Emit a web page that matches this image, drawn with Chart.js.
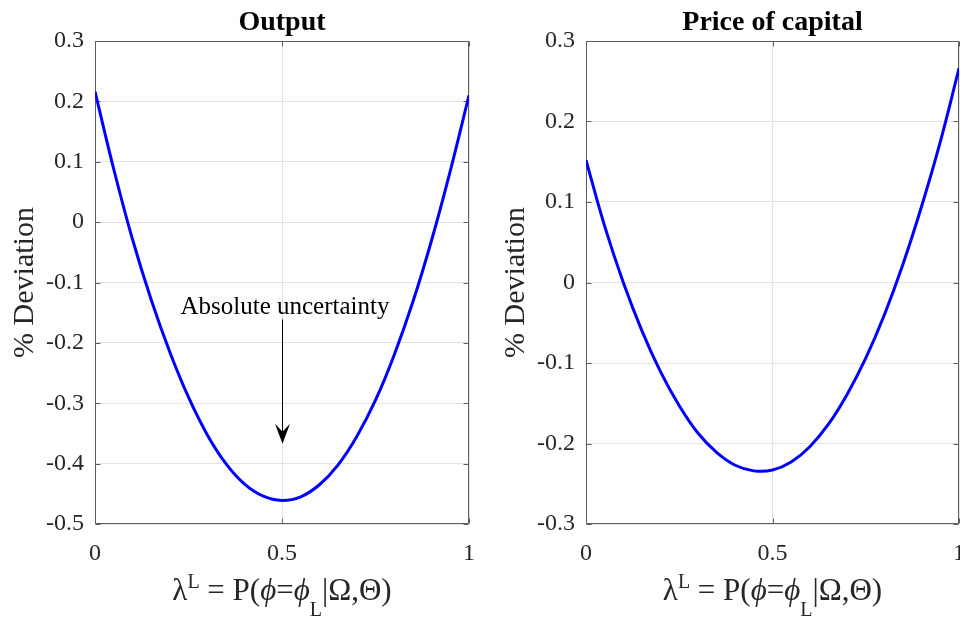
<!DOCTYPE html>
<html>
<head>
<meta charset="utf-8">
<script src="https://cdn.jsdelivr.net/npm/chart.js@4.4.1/dist/chart.umd.min.js"></script>
<style>
  html, body { margin: 0; padding: 0; background: #fff; }
  body { width: 960px; height: 617px; position: relative; overflow: hidden; }
  .panel { position: absolute; top: 0; width: 480px; height: 617px; }
</style>
</head>
<body>
<div class="panel" style="left:0"><canvas id="outputChart"></canvas></div>
<div class="panel" style="left:480px"><canvas id="priceChart"></canvas></div>
<script>
// values
const lambdaGrid = [0, 0.05, 0.1, 0.15, 0.2, 0.25, 0.3, 0.35, 0.4, 0.45, 0.5, 0.55, 0.6, 0.65, 0.7, 0.75, 0.8, 0.85, 0.9, 0.95, 1.0];
const outputDeviation = [0.216, 0.088, -0.028, -0.128, -0.215, -0.29, -0.352, -0.4, -0.434, -0.454, -0.461, -0.455, -0.435, -0.402, -0.355, -0.295, -0.22, -0.132, -0.03, 0.085, 0.21];
const priceDeviation = [0.152, 0.07, 0.0, -0.06, -0.111, -0.153, -0.187, -0.211, -0.227, -0.234, -0.233, -0.223, -0.204, -0.176, -0.139, -0.094, -0.04, 0.023, 0.095, 0.175, 0.266];

const xTicks = [0, 0.5, 1];
const yTicksOutput = [0.3, 0.2, 0.1, 0, -0.1, -0.2, -0.3, -0.4, -0.5];
const yTicksPrice = [0.3, 0.2, 0.1, 0, -0.1, -0.2, -0.3];

const annotationText = "Absolute uncertainty";
const annotationAt = { x: 0.508, y: -0.152 };
const arrowFrom = { x: 0.5, y: -0.161 };
const arrowTo = { x: 0.5, y: -0.367 };

const SERIF = '"Liberation Serif", "Times New Roman", "DejaVu Serif", serif';
const TEXT = "#262626";
const GRID = "#e3e3e3";
const BOX = "#5e5e5e";
const LINE = "#0000ff";

// x label pieces: text, size, baseline shift, italic
const xLabelParts = [
  ["λ", 31, 0, false],
  ["L", 20, -12, false],
  [" = P(", 31, 0, false],
  ["ϕ", 31, 0, true],
  ["=", 31, 0, false],
  ["ϕ", 31, 0, true],
  ["L", 20, 16, false],
  ["|Ω,Θ)", 31, 0, false],
];

const fmt = (v) => String(Math.round(v * 10) / 10);

function drawXLabel(ctx, cx, baseline) {
  const fontOf = (p) => `${p[3] ? "italic " : ""}${p[1]}px ${SERIF}`;
  let total = 0;
  const widths = xLabelParts.map((p) => {
    ctx.font = fontOf(p);
    const w = ctx.measureText(p[0]).width;
    total += w;
    return w;
  });
  let x = cx - total / 2;
  ctx.textAlign = "left";
  ctx.textBaseline = "alphabetic";
  xLabelParts.forEach((p, i) => {
    ctx.font = fontOf(p);
    ctx.fillText(p[0], x, baseline + p[2]);
    x += widths[i];
  });
}

const matlabAxes = {
  id: "matlabAxes",
  beforeDatasetsDraw(chart) {
    const { ctx, chartArea: a, scales: { x, y } } = chart;
    const L = Math.round(a.left) + 0.5, R = Math.round(a.right) - 0.5;
    const T = Math.round(a.top) + 0.5, B = Math.round(a.bottom) - 0.5;
    ctx.save();
    ctx.strokeStyle = BOX;
    ctx.lineWidth = 1;
    ctx.beginPath();
    y.ticks.forEach((t) => {
      const py = Math.round(y.getPixelForValue(t.value)) + 0.5;
      ctx.moveTo(L, py); ctx.lineTo(L + 5, py);
      ctx.moveTo(R - 5, py); ctx.lineTo(R, py);
    });
    x.ticks.forEach((t) => {
      const px = Math.round(x.getPixelForValue(t.value)) + 0.5;
      ctx.moveTo(px, B); ctx.lineTo(px, B - 5);
      ctx.moveTo(px, T); ctx.lineTo(px, T + 5);
    });
    ctx.rect(L, T, R - L, B - T);
    ctx.stroke();
    ctx.restore();
  },
  afterDraw(chart, args, opts) {
    const { ctx, chartArea: a, scales: { x, y } } = chart;
    const cx = (a.left + a.right) / 2;
    ctx.save();
    // title
    ctx.fillStyle = "#000";
    ctx.font = `bold 28px ${SERIF}`;
    ctx.textAlign = "center";
    ctx.textBaseline = "alphabetic";
    ctx.fillText(opts.title, cx, 29.5);
    // y label
    ctx.fillStyle = TEXT;
    ctx.save();
    ctx.translate(a.left - 62, (a.top + a.bottom) / 2);
    ctx.rotate(-Math.PI / 2);
    ctx.font = `30px ${SERIF}`;
    ctx.fillText("% Deviation", 0, 0);
    ctx.restore();
    // x label
    drawXLabel(ctx, cx, 600);
    // annotation
    if (opts.annotation) {
      ctx.fillStyle = "#000";
      ctx.strokeStyle = "#000";
      ctx.font = `25px ${SERIF}`;
      ctx.textAlign = "center";
      ctx.fillText(annotationText, x.getPixelForValue(annotationAt.x), y.getPixelForValue(annotationAt.y));
      const ax = Math.round(x.getPixelForValue(arrowFrom.x)) + 0.5;
      const y0 = y.getPixelForValue(arrowFrom.y);
      const tip = y.getPixelForValue(arrowTo.y);
      ctx.lineWidth = 1;
      ctx.beginPath();
      ctx.moveTo(ax, y0);
      ctx.lineTo(ax, tip - 10);
      ctx.stroke();
      ctx.beginPath();
      ctx.moveTo(ax, tip);
      ctx.lineTo(ax - 7.5, tip - 20);
      ctx.lineTo(ax, tip - 12);
      ctx.lineTo(ax + 7.5, tip - 20);
      ctx.closePath();
      ctx.fill();
    }
    ctx.restore();
  },
};

function makeChart(id, xs, ys, yTicks, yMin, yMax, axisWidth, rightPad, title, annotation) {
  return new Chart(document.getElementById(id), {
    type: "line",
    data: {
      datasets: [{
        data: xs.map((v, i) => ({ x: v, y: ys[i] })),
        borderColor: LINE,
        borderWidth: 3,
        pointRadius: 0,
        tension: 0.4,
        fill: false,
      }],
    },
    options: {
      responsive: true,
      maintainAspectRatio: false,
      animation: false,
      layout: { padding: { top: 41, left: 0, right: rightPad, bottom: 0 } },
      plugins: {
        legend: { display: false },
        tooltip: { enabled: false },
        title: { display: false },
        matlabAxes: { title, annotation },
      },
      scales: {
        x: {
          type: "linear",
          min: 0,
          max: 1,
          afterBuildTicks: (s) => { s.ticks = xTicks.map((v) => ({ value: v })); },
          afterFit: (s) => { s.height = 93; s.paddingLeft = 0; s.paddingRight = 0; },
          grid: { color: GRID, drawTicks: false },
          border: { display: false },
          ticks: { font: { family: SERIF, size: 24 }, color: TEXT, padding: 15, maxRotation: 0, autoSkip: false, callback: fmt },
        },
        y: {
          min: yMin,
          max: yMax,
          afterBuildTicks: (s) => { s.ticks = yTicks.map((v) => ({ value: v })); },
          afterFit: (s) => { s.width = axisWidth; s.paddingTop = 0; s.paddingBottom = 0; },
          grid: { color: GRID, drawTicks: false },
          border: { display: false },
          ticks: { font: { family: SERIF, size: 24 }, color: TEXT, padding: 11, autoSkip: false, callback: fmt },
        },
      },
    },
    plugins: [matlabAxes],
  });
}

makeChart("outputChart", lambdaGrid, outputDeviation, yTicksOutput, -0.5, 0.3, 95, 11, "Output", true);
makeChart("priceChart", lambdaGrid, priceDeviation, yTicksPrice, -0.3, 0.3, 106, 1, "Price of capital", false);
</script>
</body>
</html>
